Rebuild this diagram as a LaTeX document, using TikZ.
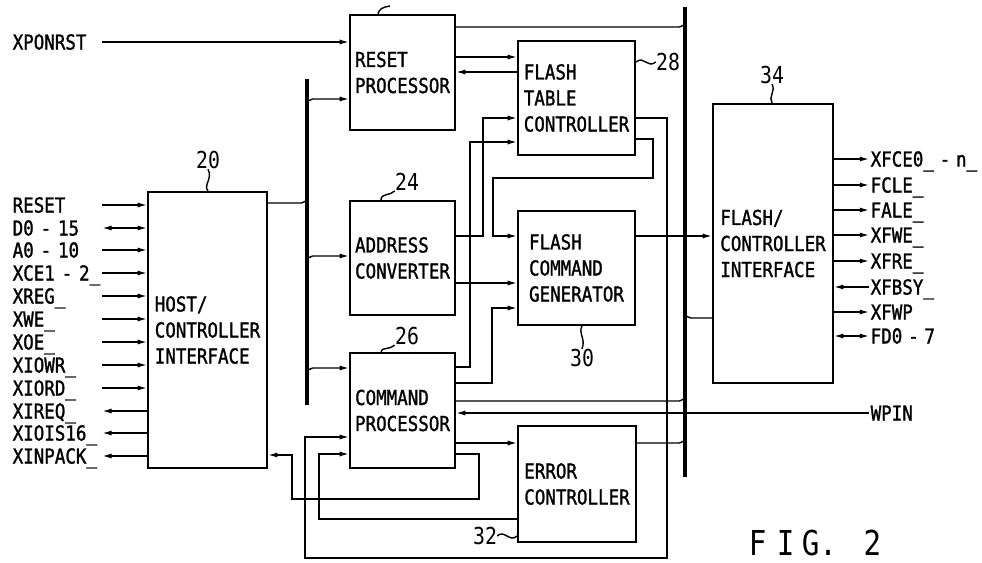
\documentclass[tikz,border=0pt]{standalone}
\usepackage{fontspec}
\setmainfont{DejaVu Sans Mono}[FakeStretch=0.85, WordSpace=0.55, FakeBold=1.3]
\newfontfamily\thinfont{DejaVu Sans Mono}[FakeStretch=0.85]
\usetikzlibrary{arrows.meta}
\tikzset{
  block/.style={draw, line width=1.6pt, align=left, inner sep=2pt,
    font=\fontsize{14.65}{18.5}\selectfont},
  sigl/.style={anchor=west, inner xsep=1pt, inner ysep=0pt, text width=22mm, align=left,
    text height=10.7pt, text depth=0pt, font=\fontsize{14.65}{17}\selectfont},
  sigr/.style={anchor=west, inner xsep=1pt, inner ysep=0pt,
    text height=10.7pt, text depth=0pt, font=\fontsize{14.65}{17}\selectfont},
  refno/.style={inner sep=0pt, font=\thinfont\fontsize{16.6}{18}\selectfont},
  wire/.style={line width=1pt},
  arr/.style={wire, -{Latex[length=6.5pt,width=3.6pt]}},
  dbl/.style={wire, {Latex[length=6.5pt,width=3.6pt]}-{Latex[length=6.5pt,width=3.6pt]}},
  bus/.style={line width=2.4pt},
  tap/.style={wire, rounded corners=4}
}

\begin{document}
\begin{tikzpicture}[x=0.25mm, y=-0.25mm]
  \useasboundingbox (0,0) rectangle (982,562);

  % blocks
  \node[block, minimum width=29.75mm, minimum height=69mm] (host) at (207.5,330) {HOST/\\CONTROLLER\\INTERFACE};
  \node[block, minimum width=26.25mm, minimum height=28.75mm] (rp) at (402.5,72.5) {RESET\\PROCESSOR};
  \node[block, minimum width=26.25mm, minimum height=28.5mm] (acv) at (402.5,258) {ADDRESS\\CONVERTER};
  \node[block, minimum width=26.25mm, minimum height=28.75mm] (cp) at (402.5,410.5) {COMMAND\\PROCESSOR};
  \node[block, minimum width=29.25mm, minimum height=28.5mm] (ftc) at (576.5,98) {FLASH\\TABLE\\CONTROLLER};
  \node[block, minimum width=29.25mm, minimum height=28.5mm] (fcg) at (576.5,268) {FLASH\\COMMAND\\GENERATOR};
  \node[block, minimum width=29.5mm, minimum height=29mm] (ec) at (577,484) {ERROR\\CONTROLLER};
  \node[block, minimum width=30mm, minimum height=69.75mm] (fci) at (773,243.5) {FLASH/\\CONTROLLER\\INTERFACE};

  % buses
  \coordinate (bus1) at (307,0);
  \coordinate (bus2) at (685,0);
  \draw[bus] (bus1 |- 0,79) -- (bus1 |- 0,405);
  \draw[bus] (bus2 |- 0,7) -- (bus2 |- 0,477);

  % reference numbers
  \node[refno] (n20) at (208,160) {20};
  \draw[wire] (host.north -| n20.south) .. controls (203,185) and (213,179) .. (n20.south);
  \node[refno] (n24) at (407,182) {24};
  \draw[wire] (acv.north -| 381,0) .. controls (381,193) and (390,196) .. (n24.south west);
  \node[refno] (n26) at (407,336) {26};
  \draw[wire] (cp.north -| 381,0) .. controls (381,347) and (390,350) .. (n26.south west);
  \node[refno] (n28) at (668,62) {28};
  \draw[wire] (ftc.east |- n28) .. controls (644,55) and (647,69) .. (n28.west);
  \node[refno] (n30) at (582,358) {30};
  \draw[wire] (fcg.south -| n30) .. controls (578,333) and (586,339) .. (n30.north);
  \node[refno] (n32) at (485,536) {32};
  \draw[wire] (n32.east) .. controls (504,529) and (510,543) .. (ec.west |- n32);
  \node[refno] (n34) at (772,75) {34};
  \draw[wire] (fci.north -| n34) .. controls (768,97) and (776,91) .. (n34.south);
  \coordinate (rptag) at (390,6);
  \draw[wire] (rp.north -| 378,0) .. controls (379,9) and (383,7) .. (rptag);

  % host side signals
  \node[sigl] (xpon) at (11,42) {XPONRST};
  \draw[arr] (xpon.east) -- (rp.west |- xpon.east);
  \node[sigl] (reset) at (11,205) {RESET};
  \node[sigl] (dbus) at (11,228) {D0 - 15};
  \node[sigl] (abus) at (11,250) {A0 - 10};
  \node[sigl] (xce) at (11,273) {XCE1 - 2\_};
  \node[sigl] (xreg) at (11,296) {XREG\_};
  \node[sigl] (xwe) at (11,319) {XWE\_};
  \node[sigl] (xoe) at (11,342) {XOE\_};
  \node[sigl] (xiowr) at (11,365) {XIOWR\_};
  \node[sigl] (xiord) at (11,388) {XIORD\_};
  \node[sigl] (xireq) at (11,411) {XIREQ\_};
  \node[sigl] (xiois) at (11,433) {XIOIS16\_};
  \node[sigl] (xinpack) at (11,456) {XINPACK\_};
  \draw[arr] (reset.east) -- (host.west |- reset.east);
  \draw[dbl] (dbus.east) -- (host.west |- dbus.east);
  \draw[arr] (abus.east) -- (host.west |- abus.east);
  \draw[arr] (xce.east) -- (host.west |- xce.east);
  \draw[arr] (xreg.east) -- (host.west |- xreg.east);
  \draw[arr] (xwe.east) -- (host.west |- xwe.east);
  \draw[arr] (xoe.east) -- (host.west |- xoe.east);
  \draw[arr] (xiowr.east) -- (host.west |- xiowr.east);
  \draw[arr] (xiord.east) -- (host.west |- xiord.east);
  \draw[arr] (host.west |- xireq.east) -- (xireq.east);
  \draw[arr] (host.west |- xiois.east) -- (xiois.east);
  \draw[arr] (host.west |- xinpack.east) -- (xinpack.east);

  % flash side signals
  \node[sigr] (xfce) at (869,159) {XFCE0\_ - n\_};
  \node[sigr] (fcle) at (869,185) {FCLE\_};
  \node[sigr] (fale) at (869,210) {FALE\_};
  \node[sigr] (xfwe) at (869,235) {XFWE\_};
  \node[sigr] (xfre) at (869,261) {XFRE\_};
  \node[sigr] (xfbsy) at (869,287) {XFBSY\_};
  \node[sigr] (xfwp) at (869,312) {XFWP};
  \node[sigr] (fdbus) at (869,336) {FD0 - 7};
  \draw[arr] (fci.east |- xfce.west) -- (xfce.west);
  \draw[arr] (fci.east |- fcle.west) -- (fcle.west);
  \draw[arr] (fci.east |- fale.west) -- (fale.west);
  \draw[arr] (fci.east |- xfwe.west) -- (xfwe.west);
  \draw[arr] (fci.east |- xfre.west) -- (xfre.west);
  \draw[arr] (xfbsy.west) -- (fci.east |- xfbsy.west);
  \draw[arr] (fci.east |- xfwp.west) -- (xfwp.west);
  \draw[dbl] (fci.east |- fdbus.west) -- (fdbus.west);
  \node[sigr] (wpin) at (869,413) {WPIN};
  \draw[arr] (wpin.west) -- (cp.east |- wpin.west);

  % bus taps
  \draw[tap] (host.east |- 0,203) -| (bus1 |- 0,196);
  \draw[tap, arr] (bus1 |- 0,106) |- (rp.west |- 0,99);
  \draw[tap, arr] (bus1 |- 0,263) |- (acv.west |- 0,256);
  \draw[tap, arr] (bus1 |- 0,375) |- (cp.west |- 0,368);
  \draw[tap] (rp.east |- 0,27) -| (bus2 |- 0,20);
  \draw[tap] (cp.east |- 0,401) -| (bus2 |- 0,394);
  \draw[tap] (ec.east |- 0,443) -| (bus2 |- 0,436);
  \draw[tap] (bus2 |- 0,311) |- (fci.west |- 0,318);

  % block to block
  \draw[arr] (rp.east |- 0,57) -- (ftc.west |- 0,57);
  \draw[arr] (ftc.west |- 0,72) -- (rp.east |- 0,72);
  \draw[arr] (acv.east |- 0,236) -- (483,236) -- (483,118) -- (ftc.west |- 0,118);
  \draw[arr] (cp.east |- 0,367) -- (470,367) -- (470,142) -- (ftc.west |- 0,142);
  \draw[arr] (acv.east |- 0,283) -- (fcg.west |- 0,283);
  \draw[arr] (cp.east |- 0,383) -- (492,383) -- (492,308) -- (fcg.west |- 0,308);
  \draw[arr] (ftc.east |- 0,139) -- (653,139) -- (653,178) -- (493,178) -- (493,236) -- (fcg.west |- 0,236);
  \draw[arr] (ftc.east |- 0,118) -- (667,118) -- (667,558) -- (305,558) -- (305,437) -- (cp.west |- 0,437);
  \draw[arr] (ec.west |- 0,519) -- (319,519) -- (319,454) -- (cp.west |- 0,454);
  \draw[arr] (cp.east |- 0,454) -- (479,454) -- (479,499) -- (292,499) -- (292,455) -- (host.east |- 0,455);
  \draw[arr] (cp.east |- 0,443) -- (ec.west |- 0,443);
  \draw[arr] (fcg.east |- 0,236) -- (fci.west |- 0,236);

  \node[inner sep=0pt, font=\thinfont\fontsize{24.4}{26}\selectfont] (fig) at (815,543) {F\hspace{7.4pt}I\hspace{5.3pt}G.\hspace{19pt}2};
\end{tikzpicture}
\end{document}
